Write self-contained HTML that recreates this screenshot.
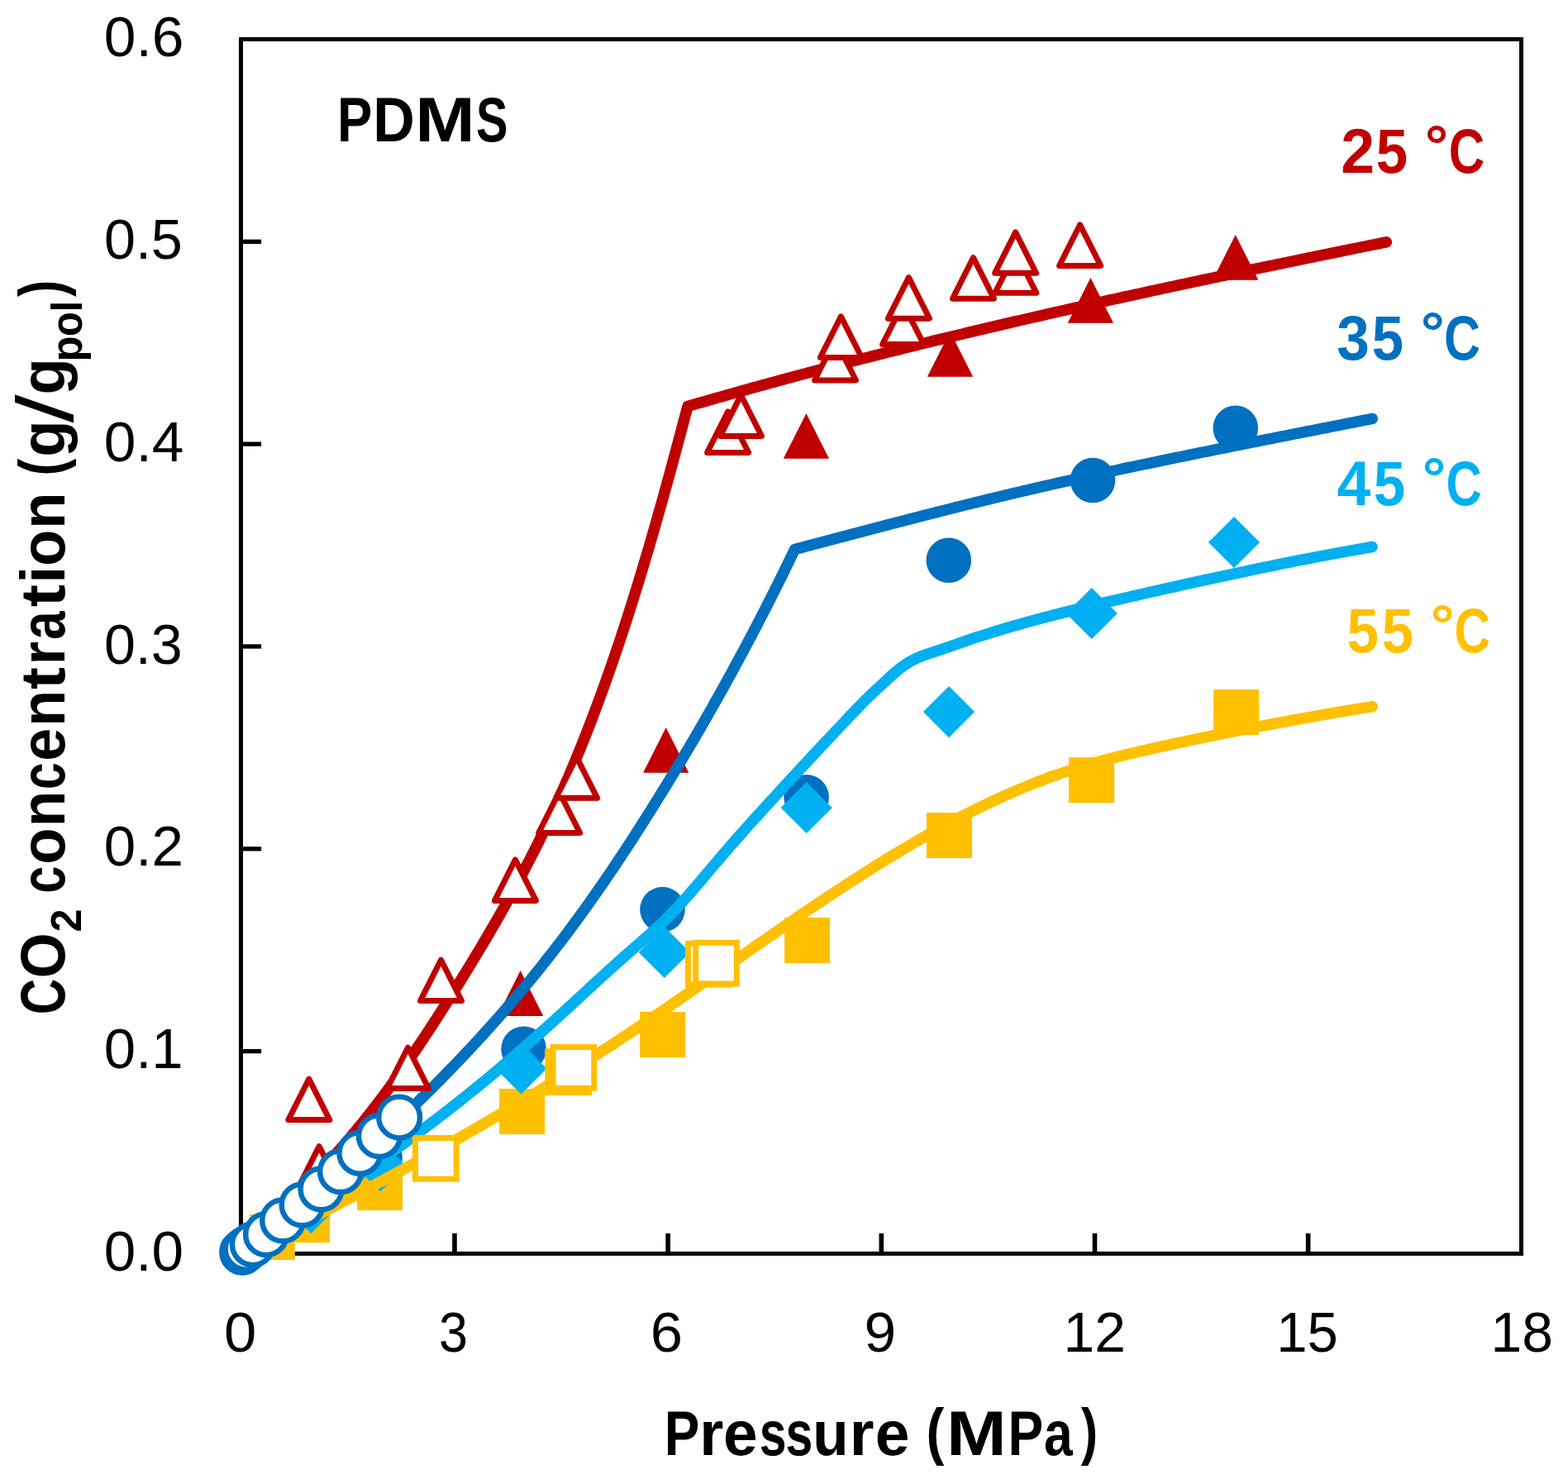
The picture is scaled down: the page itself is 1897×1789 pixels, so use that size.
<!DOCTYPE html>
<html lang="en"><head><meta charset="utf-8"><title>PDMS CO2 sorption isotherms</title>
<style>html,body{margin:0;padding:0;background:#fff}body{width:1897px;height:1789px;overflow:hidden}svg{display:block}text{font-family:"Liberation Sans",sans-serif}.t{font-size:69.3px;fill:#000}.b{font-weight:bold}</style></head><body>
<svg width="1897" height="1789" viewBox="0 0 1897 1789">
<rect width="1897" height="1789" fill="#fff"/>
<g fill="none" stroke="#000" stroke-width="5" stroke-linecap="butt">
<rect x="291.5" y="47.5" width="1549" height="1468.9"/>
<line stroke-width="5.3" x1="291.5" y1="1271.58" x2="316.1" y2="1271.58"/>
<line stroke-width="5.3" x1="291.5" y1="1026.77" x2="316.1" y2="1026.77"/>
<line stroke-width="5.3" x1="291.5" y1="781.95" x2="316.1" y2="781.95"/>
<line stroke-width="5.3" x1="291.5" y1="537.13" x2="316.1" y2="537.13"/>
<line stroke-width="5.3" x1="291.5" y1="292.32" x2="316.1" y2="292.32"/>
<line stroke-width="5.6" x1="549.97" y1="1516.4" x2="549.97" y2="1491.8"/>
<line stroke-width="5.6" x1="808.13" y1="1516.4" x2="808.13" y2="1491.8"/>
<line stroke-width="5.6" x1="1066.3" y1="1516.4" x2="1066.3" y2="1491.8"/>
<line stroke-width="5.6" x1="1324.47" y1="1516.4" x2="1324.47" y2="1491.8"/>
<line stroke-width="5.6" x1="1582.63" y1="1516.4" x2="1582.63" y2="1491.8"/>
</g>
<g fill="#C00000"><polygon points="629.6,1174.1 657.25,1228.9 601.95,1228.9"/><polygon points="805.7,880 833.35,934.8 778.05,934.8"/><polygon points="975.4,500 1003.05,554.8 947.75,554.8"/><polygon points="1149.5,400.9 1177.15,455.7 1121.85,455.7"/><polygon points="1319.4,336 1347.05,390.8 1291.75,390.8"/><polygon points="1494.7,284 1522.35,338.8 1467.05,338.8"/></g>
<g fill="#0070C0"><circle cx="372" cy="1472.5" r="27.3"/><circle cx="459.6" cy="1400" r="27.3"/><circle cx="633.6" cy="1268.8" r="27.3"/><circle cx="801.5" cy="1100.1" r="27.3"/><circle cx="975.6" cy="964.3" r="27.3"/><circle cx="1147.8" cy="677.7" r="27.3"/><circle cx="1322" cy="581" r="27.3"/><circle cx="1494.8" cy="517.8" r="27.3"/></g>
<g fill="#FFC000"><rect x="301.8" y="1469" width="55" height="55"/><rect x="344.1" y="1448" width="55" height="55"/><rect x="432" y="1409" width="55" height="55"/><rect x="604.1" y="1317" width="55" height="55"/><rect x="774.1" y="1224" width="55" height="55"/><rect x="949.1" y="1110" width="55" height="55"/><rect x="1121" y="983" width="55" height="55"/><rect x="1293.1" y="916.1" width="55" height="55"/><rect x="1468.1" y="833.9" width="55" height="55"/></g>
<g fill="none" stroke-width="13.5" stroke-linecap="round" stroke-linejoin="round">
<path stroke="#C00000" d="M291.5 1516.4 L295.68 1512.19 L299.86 1507.98 L304.04 1503.77 L308.21 1499.56 L312.38 1495.34 L316.55 1491.13 L320.71 1486.91 L324.87 1482.69 L329.02 1478.46 L333.16 1474.23 L337.3 1470 L341.43 1465.76 L345.55 1461.51 L349.66 1457.26 L353.76 1453 L357.85 1448.73 L361.92 1444.45 L365.99 1440.16 L370.04 1435.86 L374.08 1431.56 L378.1 1427.24 L382.11 1422.91 L386.11 1418.56 L390.09 1414.21 L394.05 1409.84 L397.99 1405.46 L401.91 1401.06 L405.82 1396.64 L409.7 1392.21 L413.57 1387.77 L417.41 1383.31 L421.24 1378.83 L425.03 1374.33 L428.81 1369.81 L432.56 1365.27 L436.29 1360.71 L439.99 1356.14 L443.67 1351.54 L447.32 1346.92 L450.95 1342.28 L454.55 1337.61 L458.12 1332.93 L461.68 1328.23 L465.21 1323.51 L468.72 1318.78 L472.2 1314.02 L475.67 1309.25 L479.11 1304.46 L482.53 1299.66 L485.94 1294.84 L489.33 1290 L492.7 1285.16 L496.05 1280.29 L499.38 1275.42 L502.7 1270.53 L506 1265.63 L509.29 1260.72 L512.57 1255.8 L515.83 1250.87 L519.07 1245.93 L522.31 1240.98 L525.53 1236.02 L528.74 1231.05 L531.94 1226.08 L535.13 1221.1 L538.32 1216.11 L541.49 1211.12 L544.65 1206.12 L547.81 1201.11 L550.96 1196.1 L554.09 1191.08 L557.22 1186.06 L560.34 1181.03 L563.45 1176 L566.54 1170.96 L569.63 1165.91 L572.7 1160.85 L575.77 1155.79 L578.82 1150.73 L581.85 1145.65 L584.88 1140.57 L587.89 1135.48 L590.89 1130.38 L593.87 1125.28 L596.84 1120.17 L599.8 1115.05 L602.74 1109.92 L605.66 1104.79 L608.57 1099.64 L611.47 1094.49 L614.34 1089.33 L617.2 1084.16 L620.05 1078.99 L622.87 1073.8 L625.68 1068.61 L628.47 1063.4 L631.24 1058.19 L634 1052.97 L636.73 1047.74 L639.45 1042.5 L642.14 1037.25 L644.82 1031.99 L647.47 1026.72 L650.1 1021.44 L652.71 1016.15 L655.31 1010.85 L657.88 1005.54 L660.43 1000.22 L662.96 994.89 L665.47 989.55 L667.96 984.2 L670.43 978.85 L672.88 973.48 L675.31 968.1 L677.72 962.72 L680.11 957.33 L682.49 951.93 L684.84 946.52 L687.18 941.1 L689.5 935.67 L691.8 930.24 L694.09 924.8 L696.35 919.35 L698.6 913.89 L700.83 908.42 L703.05 902.95 L705.24 897.47 L707.42 891.98 L709.59 886.49 L711.74 880.99 L713.87 875.48 L715.99 869.96 L718.09 864.44 L720.17 858.91 L722.24 853.38 L724.3 847.84 L726.34 842.29 L728.37 836.74 L730.38 831.18 L732.38 825.61 L734.36 820.04 L736.33 814.47 L738.28 808.88 L740.23 803.3 L742.15 797.71 L744.07 792.11 L745.97 786.51 L747.86 780.9 L749.74 775.29 L751.61 769.67 L753.46 764.05 L755.3 758.43 L757.13 752.8 L758.95 747.17 L760.76 741.53 L762.55 735.89 L764.34 730.25 L766.11 724.6 L767.87 718.95 L769.63 713.29 L771.37 707.64 L773.1 701.98 L774.83 696.31 L776.54 690.65 L778.24 684.98 L779.94 679.31 L781.62 673.63 L783.3 667.96 L784.97 662.28 L786.63 656.6 L788.28 650.91 L789.93 645.23 L791.56 639.54 L793.19 633.85 L794.81 628.17 L796.43 622.47 L798.03 616.78 L799.63 611.09 L801.23 605.4 L802.81 599.7 L804.39 594.01 L805.97 588.31 L807.54 582.61 L809.1 576.92 L810.66 571.22 L812.21 565.52 L813.76 559.82 L815.3 554.13 L816.84 548.43 L818.37 542.73 L819.9 537.04 L821.43 531.34 L822.95 525.65 L824.46 519.95 L825.98 514.26 L827.49 508.57 L828.99 502.88 L830.5 497.19 L832 491.5 L836.19 490.28 L840.38 489.06 L844.58 487.85 L848.77 486.64 L852.97 485.43 L857.16 484.23 L861.36 483.03 L865.56 481.83 L869.75 480.63 L873.95 479.44 L878.15 478.25 L882.35 477.07 L886.55 475.88 L890.76 474.7 L894.96 473.52 L899.16 472.35 L903.37 471.18 L907.57 470.01 L911.78 468.84 L915.99 467.68 L920.19 466.52 L924.4 465.37 L928.61 464.21 L932.82 463.06 L937.03 461.91 L941.24 460.77 L945.45 459.62 L949.67 458.48 L953.88 457.35 L958.1 456.21 L962.31 455.08 L966.53 453.95 L970.74 452.82 L974.96 451.7 L979.18 450.58 L983.4 449.46 L987.62 448.34 L991.84 447.23 L996.06 446.12 L1000.28 445.01 L1004.5 443.91 L1008.72 442.8 L1012.95 441.7 L1017.17 440.61 L1021.4 439.51 L1025.62 438.42 L1029.85 437.33 L1034.07 436.24 L1038.3 435.16 L1042.53 434.07 L1046.76 432.99 L1050.99 431.92 L1055.22 430.84 L1059.45 429.77 L1063.68 428.7 L1067.91 427.63 L1072.14 426.57 L1076.38 425.5 L1080.61 424.44 L1084.84 423.38 L1089.08 422.33 L1093.31 421.27 L1097.55 420.22 L1101.79 419.17 L1106.02 418.13 L1110.26 417.08 L1114.5 416.04 L1118.74 415 L1122.98 413.96 L1127.22 412.92 L1131.46 411.89 L1135.7 410.86 L1139.94 409.83 L1144.18 408.8 L1148.43 407.78 L1152.67 406.75 L1156.91 405.73 L1161.16 404.71 L1165.4 403.7 L1169.65 402.68 L1173.89 401.67 L1178.14 400.66 L1182.39 399.65 L1186.63 398.65 L1190.88 397.64 L1195.13 396.64 L1199.38 395.64 L1203.63 394.64 L1207.88 393.64 L1212.13 392.65 L1216.38 391.66 L1220.63 390.67 L1224.88 389.68 L1229.13 388.69 L1233.39 387.7 L1237.64 386.72 L1241.89 385.74 L1246.15 384.76 L1250.4 383.78 L1254.66 382.81 L1258.91 381.83 L1263.17 380.86 L1267.42 379.89 L1271.68 378.92 L1275.94 377.95 L1280.19 376.99 L1284.45 376.02 L1288.71 375.06 L1292.97 374.1 L1297.23 373.14 L1301.49 372.18 L1305.75 371.23 L1310.01 370.28 L1314.27 369.32 L1318.53 368.37 L1322.79 367.42 L1327.05 366.48 L1331.31 365.53 L1335.57 364.58 L1339.84 363.64 L1344.1 362.7 L1348.36 361.76 L1352.63 360.82 L1356.89 359.89 L1361.15 358.95 L1365.42 358.02 L1369.68 357.08 L1373.95 356.15 L1378.21 355.22 L1382.48 354.29 L1386.74 353.37 L1391.01 352.44 L1395.28 351.52 L1399.54 350.59 L1403.81 349.67 L1408.08 348.75 L1412.35 347.83 L1416.61 346.91 L1420.88 346 L1425.15 345.08 L1429.42 344.17 L1433.69 343.25 L1437.96 342.34 L1442.23 341.43 L1446.5 340.52 L1450.77 339.61 L1455.04 338.71 L1459.31 337.8 L1463.58 336.9 L1467.85 335.99 L1472.12 335.09 L1476.39 334.19 L1480.66 333.29 L1484.94 332.39 L1489.21 331.49 L1493.48 330.59 L1497.75 329.7 L1502.02 328.8 L1506.3 327.91 L1510.57 327.02 L1514.84 326.12 L1519.12 325.23 L1523.39 324.34 L1527.66 323.45 L1531.94 322.56 L1536.21 321.68 L1540.48 320.79 L1544.76 319.9 L1549.03 319.02 L1553.31 318.13 L1557.58 317.25 L1561.86 316.37 L1566.13 315.49 L1570.4 314.61 L1574.68 313.73 L1578.95 312.85 L1583.23 311.97 L1587.51 311.09 L1591.78 310.21 L1596.06 309.34 L1600.33 308.46 L1604.61 307.59 L1608.88 306.71 L1613.16 305.84 L1617.43 304.96 L1621.71 304.09 L1625.99 303.22 L1630.26 302.35 L1634.54 301.48 L1638.81 300.61 L1643.09 299.74 L1647.37 298.87 L1651.64 298 L1655.92 297.13 L1660.19 296.26 L1664.47 295.4 L1668.75 294.53 L1673.02 293.66 L1677.3 292.8"/>
<path stroke="#0070C0" d="M291.5 1516.4 L295.85 1513.07 L300.2 1509.73 L304.54 1506.38 L308.87 1503.02 L313.2 1499.65 L317.52 1496.28 L321.84 1492.89 L326.16 1489.49 L330.46 1486.08 L334.76 1482.66 L339.06 1479.24 L343.35 1475.8 L347.63 1472.35 L351.91 1468.89 L356.18 1465.43 L360.44 1461.95 L364.7 1458.46 L368.95 1454.97 L373.19 1451.46 L377.43 1447.94 L381.66 1444.41 L385.88 1440.88 L390.09 1437.33 L394.3 1433.77 L398.5 1430.2 L402.69 1426.63 L406.87 1423.04 L411.05 1419.44 L415.22 1415.83 L419.38 1412.21 L423.53 1408.58 L427.67 1404.94 L431.8 1401.29 L435.93 1397.63 L440.05 1393.96 L444.15 1390.28 L448.25 1386.59 L452.34 1382.89 L456.42 1379.17 L460.49 1375.45 L464.56 1371.72 L468.61 1367.97 L472.65 1364.22 L476.69 1360.45 L480.71 1356.68 L484.72 1352.89 L488.72 1349.09 L492.72 1345.29 L496.7 1341.47 L500.67 1337.64 L504.63 1333.8 L508.58 1329.95 L512.52 1326.09 L516.45 1322.21 L520.37 1318.33 L524.28 1314.44 L528.17 1310.53 L532.06 1306.62 L535.93 1302.69 L539.79 1298.75 L543.64 1294.8 L547.48 1290.84 L551.31 1286.87 L555.12 1282.89 L558.92 1278.9 L562.71 1274.9 L566.49 1270.88 L570.25 1266.86 L574.01 1262.82 L577.75 1258.77 L581.47 1254.71 L585.19 1250.64 L588.89 1246.56 L592.57 1242.47 L596.25 1238.36 L599.91 1234.24 L603.56 1230.12 L607.19 1225.98 L610.81 1221.83 L614.42 1217.67 L618.01 1213.5 L621.59 1209.31 L625.15 1205.12 L628.7 1200.91 L632.24 1196.69 L635.76 1192.46 L639.26 1188.22 L642.76 1183.97 L646.24 1179.71 L649.7 1175.43 L653.15 1171.15 L656.59 1166.85 L660.01 1162.55 L663.42 1158.23 L666.81 1153.9 L670.19 1149.56 L673.56 1145.21 L676.91 1140.85 L680.24 1136.47 L683.57 1132.09 L686.88 1127.7 L690.17 1123.29 L693.45 1118.88 L696.71 1114.45 L699.96 1110.01 L703.2 1105.57 L706.42 1101.11 L709.63 1096.64 L712.83 1092.17 L716 1087.68 L719.17 1083.18 L722.32 1078.67 L725.46 1074.16 L728.59 1069.63 L731.71 1065.1 L734.81 1060.56 L737.9 1056 L740.98 1051.44 L744.04 1046.88 L747.1 1042.3 L750.15 1037.72 L753.18 1033.13 L756.21 1028.53 L759.22 1023.93 L762.22 1019.32 L765.22 1014.7 L768.21 1010.08 L771.18 1005.45 L774.15 1000.82 L777.11 996.18 L780.07 991.54 L783.01 986.89 L785.95 982.23 L788.87 977.57 L791.8 972.91 L794.71 968.24 L797.61 963.56 L800.51 958.88 L803.4 954.2 L806.28 949.51 L809.15 944.82 L812.01 940.12 L814.87 935.41 L817.72 930.7 L820.56 925.99 L823.39 921.27 L826.21 916.55 L829.03 911.82 L831.84 907.09 L834.63 902.35 L837.43 897.6 L840.21 892.86 L842.98 888.1 L845.75 883.35 L848.51 878.58 L851.26 873.82 L854 869.05 L856.73 864.27 L859.46 859.49 L862.17 854.7 L864.88 849.91 L867.58 845.12 L870.27 840.32 L872.96 835.51 L875.63 830.7 L878.3 825.89 L880.95 821.07 L883.6 816.25 L886.25 811.42 L888.88 806.59 L891.5 801.75 L894.12 796.91 L896.73 792.06 L899.32 787.21 L901.92 782.35 L904.5 777.49 L907.07 772.63 L909.64 767.76 L912.19 762.89 L914.74 758.01 L917.28 753.13 L919.81 748.24 L922.33 743.35 L924.84 738.46 L927.35 733.56 L929.84 728.65 L932.33 723.74 L934.81 718.83 L937.28 713.91 L939.74 708.99 L942.19 704.06 L944.64 699.13 L947.07 694.2 L949.5 689.26 L951.92 684.32 L954.33 679.37 L956.73 674.42 L959.12 669.46 L961.5 664.5 L964.98 663.58 L968.46 662.66 L971.94 661.74 L975.42 660.82 L978.91 659.9 L982.39 658.98 L985.87 658.06 L989.35 657.14 L992.83 656.22 L996.31 655.3 L999.79 654.38 L1003.27 653.46 L1006.76 652.53 L1010.24 651.61 L1013.72 650.69 L1017.2 649.77 L1020.68 648.86 L1024.17 647.94 L1027.65 647.02 L1031.13 646.1 L1034.61 645.18 L1038.09 644.26 L1041.58 643.35 L1045.06 642.43 L1048.54 641.52 L1052.03 640.6 L1055.51 639.69 L1058.99 638.77 L1062.48 637.86 L1065.96 636.95 L1069.45 636.04 L1072.93 635.13 L1076.42 634.22 L1079.9 633.31 L1083.39 632.41 L1086.87 631.5 L1090.36 630.6 L1093.84 629.69 L1097.33 628.79 L1100.82 627.89 L1104.3 626.99 L1107.79 626.09 L1111.28 625.19 L1114.77 624.3 L1118.26 623.4 L1121.74 622.51 L1125.23 621.62 L1128.72 620.73 L1132.21 619.84 L1135.7 618.96 L1139.19 618.07 L1142.69 617.19 L1146.18 616.31 L1149.67 615.43 L1153.16 614.55 L1156.65 613.67 L1160.15 612.8 L1163.64 611.93 L1167.13 611.06 L1170.63 610.19 L1174.12 609.32 L1177.62 608.46 L1181.12 607.6 L1184.61 606.74 L1188.11 605.88 L1191.61 605.03 L1195.11 604.17 L1198.6 603.32 L1202.1 602.48 L1205.6 601.63 L1209.1 600.79 L1212.6 599.95 L1216.11 599.11 L1219.61 598.27 L1223.11 597.44 L1226.61 596.61 L1230.12 595.78 L1233.62 594.96 L1237.13 594.13 L1240.63 593.31 L1244.14 592.5 L1247.65 591.68 L1251.15 590.87 L1254.66 590.06 L1258.17 589.25 L1261.68 588.44 L1265.19 587.64 L1268.7 586.84 L1272.21 586.04 L1275.72 585.24 L1279.23 584.45 L1282.74 583.65 L1286.25 582.86 L1289.77 582.08 L1293.28 581.29 L1296.79 580.51 L1300.31 579.72 L1303.82 578.94 L1307.34 578.17 L1310.85 577.39 L1314.37 576.62 L1317.89 575.84 L1321.4 575.07 L1324.92 574.31 L1328.44 573.54 L1331.96 572.78 L1335.48 572.01 L1339 571.25 L1342.52 570.49 L1346.03 569.74 L1349.56 568.98 L1353.08 568.23 L1356.6 567.47 L1360.12 566.72 L1363.64 565.97 L1367.16 565.23 L1370.68 564.48 L1374.21 563.74 L1377.73 562.99 L1381.25 562.25 L1384.78 561.51 L1388.3 560.78 L1391.83 560.04 L1395.35 559.3 L1398.88 558.57 L1402.4 557.84 L1405.93 557.1 L1409.45 556.37 L1412.98 555.65 L1416.51 554.92 L1420.03 554.19 L1423.56 553.47 L1427.09 552.74 L1430.62 552.02 L1434.14 551.3 L1437.67 550.58 L1441.2 549.86 L1444.73 549.14 L1448.26 548.42 L1451.79 547.71 L1455.32 546.99 L1458.85 546.28 L1462.37 545.57 L1465.9 544.85 L1469.44 544.14 L1472.97 543.43 L1476.5 542.72 L1480.03 542.01 L1483.56 541.31 L1487.09 540.6 L1490.62 539.89 L1494.15 539.19 L1497.68 538.48 L1501.21 537.78 L1504.75 537.07 L1508.28 536.37 L1511.81 535.67 L1515.34 534.97 L1518.87 534.26 L1522.41 533.56 L1525.94 532.86 L1529.47 532.16 L1533 531.46 L1536.54 530.77 L1540.07 530.07 L1543.6 529.37 L1547.14 528.67 L1550.67 527.97 L1554.2 527.28 L1557.74 526.58 L1561.27 525.88 L1564.8 525.19 L1568.34 524.49 L1571.87 523.8 L1575.4 523.1 L1578.94 522.41 L1582.47 521.71 L1586 521.02 L1589.54 520.32 L1593.07 519.63 L1596.6 518.93 L1600.14 518.24 L1603.67 517.54 L1607.2 516.85 L1610.74 516.15 L1614.27 515.46 L1617.8 514.76 L1621.34 514.07 L1624.87 513.37 L1628.4 512.67 L1631.94 511.98 L1635.47 511.28 L1639 510.59 L1642.54 509.89 L1646.07 509.19 L1649.6 508.49 L1653.14 507.8 L1656.67 507.1 L1660.2 506.4"/>
</g>
<g fill="#00B0F0"><polygon points="376.3,1429.8 407.4,1460.9 376.3,1492 345.2,1460.9"/><polygon points="460.2,1379.1 491.3,1410.2 460.2,1441.3 429.1,1410.2"/><polygon points="630.5,1261.3 661.6,1292.4 630.5,1323.5 599.4,1292.4"/><polygon points="803.8,1120.9 834.9,1152 803.8,1183.1 772.7,1152"/><polygon points="975.7,945.9 1006.8,977 975.7,1008.1 944.6,977"/><polygon points="1148,830 1179.1,861.1 1148,892.2 1116.9,861.1"/><polygon points="1320.8,710.9 1351.9,742 1320.8,773.1 1289.7,742"/><polygon points="1493,624.9 1524.1,656 1493,687.1 1461.9,656"/></g>
<g fill="none" stroke-width="13.5" stroke-linecap="round" stroke-linejoin="round">
<path stroke="#00B0F0" d="M291.5 1516.4 L298.48 1511.86 L305.46 1507.31 L312.44 1502.76 L319.42 1498.2 L326.4 1493.64 L333.38 1489.07 L340.36 1484.49 L347.34 1479.91 L354.32 1475.31 L361.29 1470.71 L368.26 1466.1 L375.22 1461.48 L382.17 1456.84 L389.12 1452.19 L396.07 1447.53 L403 1442.86 L409.93 1438.17 L416.84 1433.47 L423.75 1428.75 L430.64 1424.01 L437.52 1419.26 L444.39 1414.49 L451.25 1409.7 L458.09 1404.89 L464.92 1400.06 L471.73 1395.21 L478.53 1390.34 L485.31 1385.44 L492.07 1380.53 L498.81 1375.58 L505.53 1370.62 L512.24 1365.63 L518.92 1360.61 L525.58 1355.57 L532.22 1350.5 L538.84 1345.4 L545.43 1340.27 L552 1335.11 L558.54 1329.93 L565.06 1324.72 L571.56 1319.48 L578.04 1314.21 L584.5 1308.92 L590.93 1303.6 L597.34 1298.26 L603.73 1292.89 L610.11 1287.5 L616.46 1282.08 L622.79 1276.64 L629.1 1271.18 L635.4 1265.69 L641.67 1260.19 L647.93 1254.66 L654.17 1249.11 L660.39 1243.55 L666.6 1237.96 L672.79 1232.35 L678.96 1226.73 L685.12 1221.09 L691.27 1215.44 L697.41 1209.77 L703.55 1204.11 L709.68 1198.45 L715.82 1192.78 L721.97 1187.13 L728.13 1181.49 L734.3 1175.86 L740.49 1170.25 L746.7 1164.66 L752.93 1159.11 L759.19 1153.58 L765.48 1148.08 L771.79 1142.61 L778.1 1137.14 L784.38 1131.64 L790.61 1126.09 L796.76 1120.46 L802.81 1114.72 L808.73 1108.86 L814.55 1102.87 L820.26 1096.79 L825.88 1090.61 L831.44 1084.36 L836.93 1078.05 L842.38 1071.69 L847.8 1065.31 L853.2 1058.91 L858.61 1052.51 L864.02 1046.12 L869.45 1039.76 L874.91 1033.42 L880.38 1027.1 L885.88 1020.81 L891.39 1014.54 L896.92 1008.28 L902.47 1002.04 L908.04 995.82 L913.62 989.62 L919.21 983.43 L924.82 977.25 L930.44 971.09 L936.07 964.93 L941.72 958.79 L947.37 952.65 L953.04 946.52 L958.71 940.4 L964.39 934.28 L970.08 928.17 L975.78 922.06 L981.48 915.95 L987.19 909.84 L992.9 903.73 L998.61 897.62 L1004.34 891.52 L1010.07 885.42 L1015.8 879.34 L1021.54 873.26 L1027.29 867.19 L1033.05 861.14 L1038.82 855.1 L1044.63 849.12 L1050.55 843.26 L1056.59 837.54 L1062.72 831.89 L1068.88 826.22 L1075.05 820.5 L1081.3 814.85 L1087.7 809.44 L1094.36 804.44 L1101.36 800 L1108.73 796.24 L1116.42 793.09 L1124.32 790.32 L1132.31 787.72 L1140.28 785.07 L1148.2 782.35 L1156.09 779.59 L1163.98 776.84 L1171.87 774.12 L1179.79 771.47 L1187.72 768.88 L1195.68 766.34 L1203.65 763.87 L1211.63 761.44 L1219.63 759.06 L1227.65 756.74 L1235.68 754.45 L1243.73 752.22 L1251.78 750.02 L1259.85 747.86 L1267.93 745.74 L1276.02 743.65 L1284.12 741.59 L1292.23 739.57 L1300.35 737.57 L1308.47 735.59 L1316.6 733.64 L1324.73 731.7 L1332.87 729.79 L1341.01 727.89 L1349.16 726 L1357.31 724.12 L1365.46 722.25 L1373.61 720.39 L1381.76 718.53 L1389.91 716.67 L1398.06 714.83 L1406.21 712.99 L1414.37 711.16 L1422.52 709.33 L1430.68 707.52 L1438.83 705.71 L1446.99 703.91 L1455.15 702.12 L1463.32 700.34 L1471.48 698.56 L1479.65 696.8 L1487.81 695.05 L1495.98 693.31 L1504.16 691.59 L1512.33 689.87 L1520.51 688.17 L1528.69 686.48 L1536.87 684.8 L1545.06 683.14 L1553.24 681.49 L1561.43 679.85 L1569.63 678.23 L1577.83 676.63 L1586.03 675.04 L1594.23 673.47 L1602.44 671.91 L1610.65 670.37 L1618.86 668.84 L1627.08 667.34 L1635.31 665.85 L1643.53 664.38 L1651.76 662.93 L1660 661.5"/>
<path stroke="#FFC000" d="M291.5 1516.4 L298.43 1512.98 L305.36 1509.55 L312.28 1506.1 L319.2 1502.65 L326.11 1499.19 L333.02 1495.72 L339.92 1492.25 L346.82 1488.76 L353.71 1485.26 L360.6 1481.75 L367.48 1478.23 L374.35 1474.7 L381.22 1471.16 L388.09 1467.61 L394.95 1464.05 L401.8 1460.48 L408.65 1456.9 L415.49 1453.31 L422.33 1449.71 L429.16 1446.09 L435.98 1442.47 L442.8 1438.84 L449.61 1435.19 L456.42 1431.53 L463.22 1427.86 L470.01 1424.18 L476.8 1420.49 L483.58 1416.79 L490.36 1413.08 L497.12 1409.35 L503.88 1405.61 L510.64 1401.86 L517.38 1398.1 L524.13 1394.33 L530.86 1390.54 L537.58 1386.74 L544.3 1382.93 L551.02 1379.11 L557.72 1375.28 L564.42 1371.43 L571.11 1367.57 L577.79 1363.7 L584.47 1359.81 L591.13 1355.91 L597.79 1352 L604.44 1348.07 L611.09 1344.14 L617.73 1340.18 L624.35 1336.22 L630.97 1332.24 L637.59 1328.25 L644.19 1324.24 L650.79 1320.23 L657.38 1316.19 L663.96 1312.15 L670.53 1308.08 L677.09 1304.01 L683.64 1299.92 L690.19 1295.82 L696.73 1291.7 L703.25 1287.57 L709.77 1283.42 L716.28 1279.26 L722.79 1275.08 L729.28 1270.89 L735.76 1266.69 L742.24 1262.47 L748.7 1258.23 L755.16 1253.98 L761.6 1249.72 L768.04 1245.44 L774.47 1241.14 L780.88 1236.83 L787.29 1232.5 L793.69 1228.16 L800.09 1223.81 L806.47 1219.44 L812.85 1215.07 L819.22 1210.68 L825.59 1206.29 L831.95 1201.89 L838.31 1197.48 L844.66 1193.06 L851.01 1188.64 L857.36 1184.21 L863.7 1179.78 L870.04 1175.35 L876.38 1170.92 L882.72 1166.48 L889.07 1162.05 L895.41 1157.62 L901.75 1153.19 L908.09 1148.76 L914.44 1144.33 L920.79 1139.91 L927.14 1135.5 L933.5 1131.09 L939.86 1126.69 L946.22 1122.3 L952.59 1117.91 L958.97 1113.54 L965.35 1109.18 L971.74 1104.83 L978.14 1100.49 L984.55 1096.17 L990.96 1091.86 L997.39 1087.57 L1003.82 1083.3 L1010.27 1079.04 L1016.72 1074.8 L1023.19 1070.58 L1029.67 1066.38 L1036.17 1062.2 L1042.67 1058.04 L1049.19 1053.91 L1055.73 1049.8 L1062.28 1045.72 L1068.84 1041.66 L1075.43 1037.62 L1082.02 1033.62 L1088.64 1029.64 L1095.27 1025.7 L1101.92 1021.78 L1108.59 1017.9 L1115.28 1014.04 L1122 1010.22 L1128.73 1006.44 L1135.48 1002.69 L1142.25 998.98 L1149.04 995.31 L1155.86 991.68 L1162.7 988.09 L1169.56 984.55 L1176.45 981.06 L1183.36 977.62 L1190.29 974.23 L1197.24 970.89 L1204.23 967.61 L1211.23 964.39 L1218.26 961.22 L1225.32 958.12 L1232.4 955.08 L1239.51 952.11 L1246.65 949.2 L1253.81 946.36 L1261 943.6 L1268.22 940.91 L1275.47 938.29 L1282.75 935.75 L1290.05 933.29 L1297.38 930.9 L1304.75 928.6 L1312.13 926.36 L1319.54 924.19 L1326.98 922.09 L1334.43 920.04 L1341.9 918.05 L1349.39 916.11 L1356.9 914.22 L1364.41 912.38 L1371.95 910.57 L1379.49 908.8 L1387.04 907.06 L1394.6 905.35 L1402.17 903.66 L1409.73 901.99 L1417.31 900.34 L1424.88 898.71 L1432.46 897.09 L1440.04 895.48 L1447.62 893.89 L1455.2 892.31 L1462.78 890.74 L1470.37 889.19 L1477.95 887.66 L1485.54 886.14 L1493.13 884.63 L1500.72 883.13 L1508.31 881.65 L1515.91 880.18 L1523.5 878.72 L1531.09 877.28 L1538.69 875.85 L1546.29 874.43 L1553.88 873.03 L1561.48 871.63 L1569.08 870.25 L1576.68 868.88 L1584.28 867.52 L1591.88 866.18 L1599.48 864.84 L1607.08 863.52 L1614.68 862.22 L1622.28 860.92 L1629.88 859.64 L1637.48 858.38 L1645.09 857.14 L1652.69 855.91 L1660.3 854.7"/>
</g>
<g fill="#fff" stroke="#C00000" stroke-width="7" stroke-linejoin="round"><polygon points="373.8,1305.1 398.8,1354.6 348.8,1354.6"/><polygon points="386.1,1386.6 411.1,1436.1 361.1,1436.1"/><polygon points="493.5,1267.1 518.5,1316.6 468.5,1316.6"/><polygon points="533.5,1161.1 558.5,1210.6 508.5,1210.6"/><polygon points="623.4,1039.9 648.4,1089.4 598.4,1089.4"/><polygon points="676.6,958 701.6,1007.5 651.6,1007.5"/><polygon points="697.6,915.8 722.6,965.3 672.6,965.3"/><polygon points="880.6,497.9 905.6,547.4 855.6,547.4"/><polygon points="896.4,477.9 921.4,527.4 871.4,527.4"/><polygon points="1010.5,410.5 1035.5,460 985.5,460"/><polygon points="1017.4,382.9 1042.4,432.4 992.4,432.4"/><polygon points="1092.6,367.1 1117.6,416.6 1067.6,416.6"/><polygon points="1099.4,335.7 1124.4,385.2 1074.4,385.2"/><polygon points="1177.5,311.7 1202.5,361.2 1152.5,361.2"/><polygon points="1228.8,304.8 1253.8,354.3 1203.8,354.3"/><polygon points="1228.6,280.8 1253.6,330.3 1203.6,330.3"/><polygon points="1306.6,271.9 1331.6,321.4 1281.6,321.4"/></g>
<g fill="#fff" stroke="#FFC000" stroke-width="7" stroke-linejoin="miter"><rect x="502.4" y="1376.45" width="49.7" height="49.7"/><rect x="662.75" y="1271.65" width="49.7" height="49.7"/><rect x="669.05" y="1266.55" width="49.7" height="49.7"/><rect x="832.45" y="1141.35" width="49.7" height="49.7"/><rect x="841.65" y="1140.25" width="49.7" height="49.7"/></g>
<g fill="#fff" stroke="#0070C0" stroke-width="6.46"><circle cx="293.2" cy="1514.6" r="24.87"/><circle cx="297.6" cy="1510.8" r="24.87"/><circle cx="305.8" cy="1505.3" r="24.87"/><circle cx="322" cy="1493.2" r="24.87"/><circle cx="342.1" cy="1476.4" r="24.87"/><circle cx="365.6" cy="1457.4" r="24.87"/><circle cx="388.5" cy="1438.4" r="24.87"/><circle cx="412" cy="1417.2" r="24.87"/><circle cx="435.3" cy="1394.8" r="24.87"/><circle cx="458.8" cy="1374.2" r="24.87"/><circle cx="483.1" cy="1351.5" r="24.87"/></g>
<g class="t">
<text x="125.84" y="68.1" textLength="96.66" lengthAdjust="spacingAndGlyphs">0.6</text>
<text x="125.89" y="312.9" textLength="95.02" lengthAdjust="spacingAndGlyphs">0.5</text>
<text x="125.84" y="557.7" textLength="96.55" lengthAdjust="spacingAndGlyphs">0.4</text>
<text x="125.89" y="802.5" textLength="94.85" lengthAdjust="spacingAndGlyphs">0.3</text>
<text x="125.86" y="1047.4" textLength="96.02" lengthAdjust="spacingAndGlyphs">0.2</text>
<text x="125.87" y="1292.2" textLength="95.76" lengthAdjust="spacingAndGlyphs">0.1</text>
<text x="125.85" y="1537" textLength="96.29" lengthAdjust="spacingAndGlyphs">0.0</text>
<text x="271" y="1634.8" textLength="39.25" lengthAdjust="spacingAndGlyphs">0</text>
<text x="531.01" y="1634.8" textLength="34.96" lengthAdjust="spacingAndGlyphs">3</text>
<text x="786.73" y="1634.8" textLength="39.27" lengthAdjust="spacingAndGlyphs">6</text>
<text x="1045.54" y="1634.8" textLength="38.67" lengthAdjust="spacingAndGlyphs">9</text>
<text x="1286.47" y="1634.8" textLength="75.34" lengthAdjust="spacingAndGlyphs">12</text>
<text x="1544.22" y="1634.8" textLength="74.64" lengthAdjust="spacingAndGlyphs">15</text>
<text x="1803.46" y="1634.8" textLength="75.47" lengthAdjust="spacingAndGlyphs">18</text>
</g>
<g class="b">
<text><tspan x="803.68" y="1759.7" font-size="75.6" textLength="42.58" lengthAdjust="spacingAndGlyphs">P</tspan><tspan x="846.15" y="1759.7" font-size="75.6" textLength="29.11" lengthAdjust="spacingAndGlyphs">r</tspan><tspan x="874.93" y="1759.7" font-size="75.6" textLength="41.59" lengthAdjust="spacingAndGlyphs">e</tspan><tspan x="918.66" y="1759.7" font-size="75.6" textLength="32.71" lengthAdjust="spacingAndGlyphs">s</tspan><tspan x="950.55" y="1759.7" font-size="75.6" textLength="32.83" lengthAdjust="spacingAndGlyphs">s</tspan><tspan x="983.35" y="1759.7" font-size="75.6" textLength="43.28" lengthAdjust="spacingAndGlyphs">u</tspan><tspan x="1027.75" y="1759.7" font-size="75.6" textLength="29.74" lengthAdjust="spacingAndGlyphs">r</tspan><tspan x="1058.82" y="1759.7" font-size="75.6" textLength="41.7" lengthAdjust="spacingAndGlyphs">e</tspan> <tspan x="1120.55" y="1757.4" font-size="75.6" textLength="21.81" lengthAdjust="spacingAndGlyphs">(</tspan><tspan x="1145.03" y="1759.7" font-size="75.6" textLength="72.73" lengthAdjust="spacingAndGlyphs">M</tspan><tspan x="1219.57" y="1759.7" font-size="75.6" textLength="42.7" lengthAdjust="spacingAndGlyphs">P</tspan><tspan x="1263.04" y="1759.7" font-size="75.6" textLength="34.68" lengthAdjust="spacingAndGlyphs">a</tspan><tspan x="1307.8" y="1757.4" font-size="75.6" textLength="20.39" lengthAdjust="spacingAndGlyphs">)</tspan></text>
<text transform="rotate(-90)"><tspan x="-1227.28" y="78.4" font-size="75.6" textLength="43.34" lengthAdjust="spacingAndGlyphs">C</tspan><tspan x="-1183.42" y="78.4" font-size="75.6" textLength="55.19" lengthAdjust="spacingAndGlyphs">O</tspan><tspan x="-1127.48" y="98.1" font-size="52.5" textLength="27.99" lengthAdjust="spacingAndGlyphs">2</tspan> <tspan x="-1080.45" y="78.4" font-size="75.6" textLength="32.95" lengthAdjust="spacingAndGlyphs">c</tspan><tspan x="-1045.78" y="78.4" font-size="75.6" textLength="44.29" lengthAdjust="spacingAndGlyphs">o</tspan><tspan x="-1000.34" y="78.4" font-size="75.6" textLength="43.78" lengthAdjust="spacingAndGlyphs">n</tspan><tspan x="-954.93" y="78.4" font-size="75.6" textLength="32.61" lengthAdjust="spacingAndGlyphs">c</tspan><tspan x="-920.75" y="78.4" font-size="75.6" textLength="39.97" lengthAdjust="spacingAndGlyphs">e</tspan><tspan x="-878.65" y="78.4" font-size="75.6" textLength="43.91" lengthAdjust="spacingAndGlyphs">n</tspan><tspan x="-834.07" y="78.4" font-size="75.6" textLength="26.97" lengthAdjust="spacingAndGlyphs">t</tspan><tspan x="-804.56" y="78.4" font-size="75.6" textLength="28.6" lengthAdjust="spacingAndGlyphs">r</tspan><tspan x="-773.84" y="78.4" font-size="75.6" textLength="34.47" lengthAdjust="spacingAndGlyphs">a</tspan><tspan x="-734.18" y="78.4" font-size="75.6" textLength="27.19" lengthAdjust="spacingAndGlyphs">t</tspan><tspan x="-705.7" y="78.4" font-size="75.6" textLength="21.22" lengthAdjust="spacingAndGlyphs">i</tspan><tspan x="-684.88" y="78.4" font-size="75.6" textLength="44.29" lengthAdjust="spacingAndGlyphs">o</tspan><tspan x="-639.78" y="78.4" font-size="75.6" textLength="44.16" lengthAdjust="spacingAndGlyphs">n</tspan> <tspan x="-575.51" y="76.1" font-size="75.6" textLength="20.86" lengthAdjust="spacingAndGlyphs">(</tspan><tspan x="-552.69" y="78.4" font-size="75.6" textLength="44.49" lengthAdjust="spacingAndGlyphs">g</tspan><tspan x="-511.5" y="88.4" font-size="96.8" textLength="34.4" lengthAdjust="spacingAndGlyphs" font-weight="normal">/</tspan><tspan x="-477.47" y="78.4" font-size="75.6" textLength="44.24" lengthAdjust="spacingAndGlyphs">g</tspan><tspan x="-437.5" y="98.5" font-size="51" textLength="31.16" lengthAdjust="spacingAndGlyphs">p</tspan><tspan x="-407.12" y="98.5" font-size="51" textLength="29.96" lengthAdjust="spacingAndGlyphs">o</tspan><tspan x="-377.4" y="98.5" font-size="51" textLength="13.77" lengthAdjust="spacingAndGlyphs">l</tspan><tspan x="-359.1" y="76.1" font-size="75.6" textLength="20.39" lengthAdjust="spacingAndGlyphs">)</tspan></text>
<text><tspan x="407.9" y="171" font-size="75.6" textLength="42.34" lengthAdjust="spacingAndGlyphs">P</tspan><tspan x="451.28" y="171" font-size="75.6" textLength="50.48" lengthAdjust="spacingAndGlyphs">D</tspan><tspan x="502.35" y="171" font-size="75.6" textLength="72.37" lengthAdjust="spacingAndGlyphs">M</tspan><tspan x="575.98" y="171" font-size="75.6" textLength="38.44" lengthAdjust="spacingAndGlyphs">S</tspan></text>
<text fill="#C00000"><tspan x="1622.31" y="208.8" font-size="76.6" textLength="40.87" lengthAdjust="spacingAndGlyphs">2</tspan><tspan x="1664.74" y="208.8" font-size="76.6" textLength="38.46" lengthAdjust="spacingAndGlyphs">5</tspan> <tspan x="1724.01" y="200.1" font-size="68" textLength="28.04" lengthAdjust="spacingAndGlyphs">°</tspan><tspan x="1752.65" y="208.8" font-size="76.6" textLength="43.49" lengthAdjust="spacingAndGlyphs">C</tspan></text>
<text fill="#0070C0"><tspan x="1617.17" y="435" font-size="76.6" textLength="39.58" lengthAdjust="spacingAndGlyphs">3</tspan><tspan x="1659.75" y="435" font-size="76.6" textLength="38.35" lengthAdjust="spacingAndGlyphs">5</tspan> <tspan x="1718.71" y="426.3" font-size="68" textLength="28.93" lengthAdjust="spacingAndGlyphs">°</tspan><tspan x="1747.12" y="435" font-size="76.6" textLength="43.93" lengthAdjust="spacingAndGlyphs">C</tspan></text>
<text fill="#00B0F0"><tspan x="1617.6" y="610.9" font-size="76.6" textLength="40.84" lengthAdjust="spacingAndGlyphs">4</tspan><tspan x="1661.74" y="610.9" font-size="76.6" textLength="38.46" lengthAdjust="spacingAndGlyphs">5</tspan> <tspan x="1720.87" y="602.2" font-size="68" textLength="28.42" lengthAdjust="spacingAndGlyphs">°</tspan><tspan x="1749.56" y="610.9" font-size="76.6" textLength="43.27" lengthAdjust="spacingAndGlyphs">C</tspan></text>
<text fill="#FFC000"><tspan x="1629.54" y="788.8" font-size="76.6" textLength="38.46" lengthAdjust="spacingAndGlyphs">5</tspan><tspan x="1671.65" y="788.8" font-size="76.6" textLength="38.35" lengthAdjust="spacingAndGlyphs">5</tspan> <tspan x="1730.74" y="780.1" font-size="68" textLength="28.68" lengthAdjust="spacingAndGlyphs">°</tspan><tspan x="1759.45" y="788.8" font-size="76.6" textLength="43.49" lengthAdjust="spacingAndGlyphs">C</tspan></text>
</g>
</svg></body></html>
